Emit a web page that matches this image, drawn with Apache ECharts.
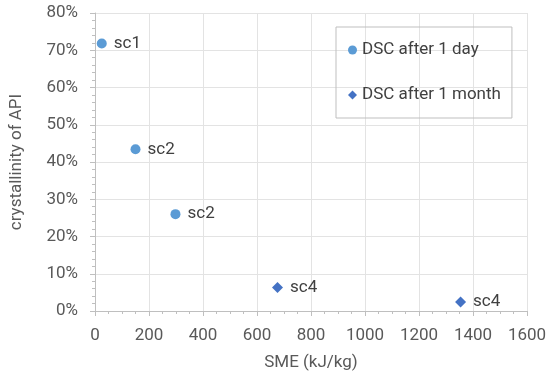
<!DOCTYPE html>
<html><head><meta charset="utf-8">
<script src="https://cdn.jsdelivr.net/npm/echarts@6/dist/echarts.min.js"></script>
<style>html,body{margin:0;padding:0;background:#fff}#c{width:550px;height:381px}</style>
</head><body><div id="c"></div>
<script>
const seriesNames = ['DSC after 1 day', 'DSC after 1 month'];
const dayX = [25, 150, 298];
const dayY = [71.8, 43.4, 26.0];
const dayLabels = ['sc1', 'sc2', 'sc2'];
const monthX = [676, 1354];
const monthY = [6.3, 2.4];
const monthLabels = ['sc4', 'sc4'];
const xTicks = [0, 200, 400, 600, 800, 1000, 1200, 1400, 1600];
const yTicks = [0, 10, 20, 30, 40, 50, 60, 70, 80];

const FONT = 'Roboto';
const FS = 17;
const chart = echarts.init(document.getElementById('c'));
const mk = (xs, ys, ls) => xs.map((x, i) => ({value: [x, ys[i]], label: {formatter: ls[i]}}));
const axisGray = '#bfbfbf';
chart.setOption({
  animation: false,
  textStyle: {fontFamily: FONT},
  grid: {left: 91, right: 23, top: 13, bottom: 70, containLabel: false},
  legend: {
    orient: 'vertical', left: 336, top: 27,
    padding: [13, 11, 13, 12], itemGap: 25,
    itemWidth: 9, itemHeight: 9,
    borderColor: '#bfbfbf', borderWidth: 1, borderRadius: 0,
    textStyle: {fontFamily: FONT, fontSize: FS, color: '#404040', lineHeight: 20},
    data: [{name: seriesNames[0], icon: 'circle'}, {name: seriesNames[1], icon: 'diamond'}]
  },
  xAxis: {
    type: 'value', min: xTicks[0], max: xTicks[xTicks.length - 1], interval: 200,
    name: 'SME (kJ/kg)', nameLocation: 'middle', nameGap: 43,
    nameTextStyle: {fontFamily: FONT, fontSize: FS, color: '#595959'},
    axisLine: {show: true, lineStyle: {color: axisGray}},
    axisTick: {show: true, length: 5, lineStyle: {color: axisGray}},
    minorTick: {show: true, splitNumber: 4, length: 3, lineStyle: {color: axisGray}},
    splitLine: {show: true, lineStyle: {color: '#e3e3e3'}},
    axisLabel: {fontFamily: FONT, fontSize: FS, color: '#595959', margin: 16, formatter: v => String(v)}
  },
  yAxis: {
    type: 'value', min: yTicks[0], max: yTicks[yTicks.length - 1], interval: 10,
    name: 'crystallinity of API', nameLocation: 'middle', nameGap: 70,
    nameTextStyle: {fontFamily: FONT, fontSize: FS, color: '#595959'},
    axisLine: {show: true, lineStyle: {color: axisGray}},
    axisTick: {show: true, length: 5, lineStyle: {color: axisGray}},
    minorTick: {show: true, splitNumber: 5, length: 3, lineStyle: {color: axisGray}},
    splitLine: {show: true, lineStyle: {color: '#e3e3e3'}},
    axisLabel: {fontFamily: FONT, fontSize: FS, color: '#595959', margin: 17, formatter: '{value}%'}
  },
  series: [
    {name: seriesNames[0], type: 'scatter', symbol: 'circle', symbolSize: 10,
     itemStyle: {color: '#5B9BD5', opacity: 1},
     label: {show: true, position: 'right', distance: 7, fontFamily: FONT, fontSize: FS, color: '#404040'},
     data: mk(dayX, dayY, dayLabels)},
    {name: seriesNames[1], type: 'scatter', symbol: 'diamond', symbolSize: 11,
     itemStyle: {color: '#4472C4', opacity: 1},
     label: {show: true, position: 'right', distance: 7, fontFamily: FONT, fontSize: FS, color: '#404040'},
     data: mk(monthX, monthY, monthLabels)}
  ]
});
</script></body></html>
